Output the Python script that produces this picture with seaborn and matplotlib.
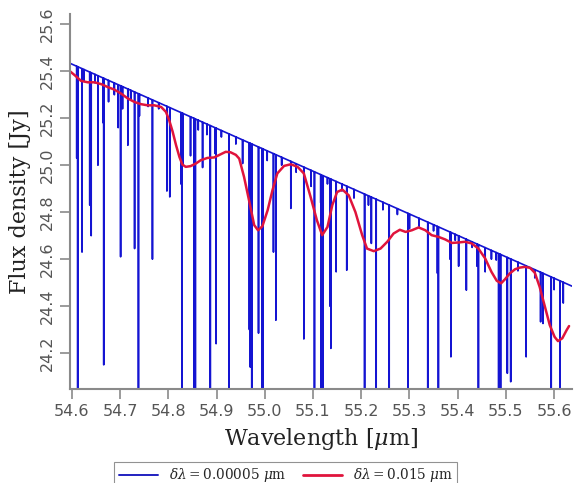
import numpy as np
import pandas as pd
import matplotlib
matplotlib.use("Agg")
import matplotlib.pyplot as plt
import seaborn as sns
from matplotlib.lines import Line2D

# ---------------- data ----------------
# continuum end points (wavelength um, flux Jy)
CONT_WL = [54.596, 55.637]
CONT_FLUX = [25.434, 24.485]

# high-resolution absorption lines: centre wavelength and minimum flux
LINE_WL = [54.610, 54.612, 54.621, 54.625, 54.637, 54.640, 54.648, 54.654, 54.665, 54.666,
           54.676, 54.688, 54.696, 54.701, 54.705, 54.716, 54.722, 54.730, 54.738, 54.740,
           54.758, 54.767, 54.780, 54.797, 54.803, 54.826, 54.828, 54.830, 54.846, 54.853,
           54.856, 54.862, 54.871, 54.880, 54.887, 54.897, 54.899, 54.910, 54.926, 54.940,
           54.954, 54.968, 54.970, 54.973, 54.987, 54.994, 54.996, 55.005, 55.018, 55.023,
           55.035, 55.054, 55.065, 55.081, 55.096, 55.103, 55.116, 55.117, 55.121, 55.130,
           55.135, 55.137, 55.148, 55.160, 55.170, 55.185, 55.207, 55.215, 55.221, 55.231,
           55.245, 55.258, 55.275, 55.297, 55.300, 55.320, 55.338, 55.350, 55.358, 55.360,
           55.384, 55.386, 55.395, 55.402, 55.418, 55.430, 55.440, 55.443, 55.457, 55.470,
           55.480, 55.485, 55.487, 55.489, 55.503, 55.510, 55.525, 55.542, 55.560, 55.572,
           55.577, 55.594, 55.600, 55.612, 55.619]
LINE_MIN = [25.03, 23.90, 24.63, 25.36, 24.83, 24.70, 25.35, 25.00, 25.18, 24.15,
            25.27, 25.30, 25.16, 24.61, 25.24, 25.085, 25.28, 24.645, 23.90, 25.21,
            25.25, 24.60, 25.24, 24.89, 24.865, 24.92, 23.90, 25.00, 25.04, 23.90,
            23.90, 25.15, 24.99, 25.13, 23.90, 25.05, 24.24, 25.12, 23.90, 25.09,
            25.007, 24.30, 24.14, 23.90, 24.285, 23.90, 23.90, 25.02, 24.63, 24.34,
            25.00, 24.816, 24.97, 24.26, 24.91, 23.90, 24.84, 23.90, 23.90, 24.92,
            24.40, 24.22, 24.546, 24.89, 24.553, 24.86, 23.90, 24.83, 24.667, 23.90,
            24.81, 23.90, 24.79, 23.90, 24.73, 24.74, 23.90, 24.72, 24.54, 23.90,
            24.60, 24.184, 24.68, 24.57, 24.468, 24.65, 24.57, 23.90, 24.546, 24.60,
            24.596, 23.90, 23.90, 23.90, 24.114, 24.078, 24.55, 24.184, 24.52, 24.333,
            24.326, 23.90, 24.47, 23.90, 24.413]

# smoothed spectrum (delta lambda = 0.015 um)
SMOOTH_WL = [54.596, 54.606, 54.619, 54.633, 54.647, 54.661, 54.674, 54.688, 54.702, 54.716,
             54.730, 54.743, 54.757, 54.771, 54.785, 54.795, 54.802, 54.809, 54.816, 54.823,
             54.829, 54.836, 54.846, 54.857, 54.867, 54.881, 54.895, 54.909, 54.919, 54.929,
             54.940, 54.947, 54.957, 54.968, 54.978, 54.986, 54.995, 55.006, 55.016, 55.026,
             55.040, 55.054, 55.068, 55.081, 55.095, 55.108, 55.119, 55.130, 55.140, 55.150,
             55.161, 55.174, 55.188, 55.202, 55.212, 55.226, 55.240, 55.254, 55.267, 55.280,
             55.292, 55.305, 55.319, 55.333, 55.346, 55.360, 55.374, 55.388, 55.402, 55.415,
             55.429, 55.443, 55.457, 55.470, 55.481, 55.490, 55.498, 55.508, 55.519, 55.529,
             55.539, 55.550, 55.560, 55.570, 55.581, 55.591, 55.601, 55.608, 55.617, 55.626,
             55.631]
SMOOTH_FLUX = [25.400, 25.383, 25.359, 25.353, 25.353, 25.345, 25.333, 25.322, 25.305, 25.284,
               25.269, 25.260, 25.255, 25.255, 25.248, 25.227, 25.190, 25.142, 25.085, 25.035,
               25.003, 24.993, 24.996, 25.007, 25.021, 25.031, 25.033, 25.047, 25.057, 25.055,
               25.044, 25.028, 24.950, 24.844, 24.745, 24.723, 24.740, 24.809, 24.894, 24.965,
               24.997, 25.004, 24.993, 24.965, 24.865, 24.766, 24.702, 24.737, 24.830, 24.886,
               24.896, 24.872, 24.800, 24.702, 24.645, 24.634, 24.645, 24.674, 24.709, 24.725,
               24.716, 24.723, 24.735, 24.723, 24.702, 24.695, 24.684, 24.669, 24.671, 24.674,
               24.667, 24.645, 24.603, 24.546, 24.508, 24.497, 24.514, 24.539, 24.557, 24.564,
               24.567, 24.563, 24.542, 24.482, 24.397, 24.319, 24.269, 24.251, 24.263, 24.298,
               24.315]

X_TICKS = [54.6, 54.7, 54.8, 54.9, 55.0, 55.1, 55.2, 55.3, 55.4, 55.5, 55.6]
Y_TICKS = [24.2, 24.4, 24.6, 24.8, 25.0, 25.2, 25.4, 25.6]
LABEL_HI = r"$\delta\lambda = 0.00005\ \mu\mathrm{m}$"
LABEL_LO = r"$\delta\lambda = 0.015\ \mu\mathrm{m}$"

# ---------------- build high-res spectrum table ----------------
half_w = 0.00012
wl_pts = list(CONT_WL)
fl_pts = list(CONT_FLUX)
for lw_, lm_ in zip(LINE_WL, LINE_MIN):
    for dx in (-half_w, half_w):
        wl_pts.append(lw_ + dx)
        fl_pts.append(float(np.interp(lw_ + dx, CONT_WL, CONT_FLUX)))
    wl_pts.append(lw_)
    fl_pts.append(lm_)
order = np.argsort(wl_pts, kind="stable")
hires = pd.DataFrame({"wl": np.array(wl_pts)[order], "flux": np.array(fl_pts)[order]})
smooth = pd.DataFrame({"wl": SMOOTH_WL, "flux": SMOOTH_FLUX})

# ---------------- plot ----------------
sns.set_theme(style="white")
plt.rcParams["font.family"] = ["DejaVu Sans"]
plt.rcParams["mathtext.fontset"] = "dejavuserif"

fig = plt.figure(figsize=(5.75, 4.83), dpi=100)
ax = fig.add_axes([0.1217, 0.1946, 0.873, 0.776])

blue = "#1414d2"
red = "#e0143c"
sns.lineplot(data=hires, x="wl", y="flux", ax=ax, color=blue, linewidth=1.2,
             sort=False, estimator=None, legend=False)
sns.lineplot(data=smooth, x="wl", y="flux", ax=ax, color=red, linewidth=1.8,
             sort=False, estimator=None, legend=False)

ax.set_xlim(54.596, 55.637)
ax.set_ylim(24.047, 25.643)
ax.set_xticks(X_TICKS)
ax.set_xticklabels([f"{v:.1f}" for v in X_TICKS])
ax.set_yticks(Y_TICKS)
ax.set_yticklabels([f"{v:.1f}" for v in Y_TICKS], rotation=90, va="center")

grey = "#8a8a8a"
for s in ("top", "right"):
    ax.spines[s].set_visible(False)
for s in ("left", "bottom"):
    ax.spines[s].set_color(grey)
    ax.spines[s].set_linewidth(1.5)
ax.tick_params(axis="both", direction="out", length=7, width=1.2, color=grey,
               labelcolor="#555555", labelsize=11.5, pad=4, left=True, bottom=True)

ax.set_xlabel(r"Wavelength [$\mu$m]", family="DejaVu Serif", fontsize=16, color="#222222", labelpad=5)
ax.set_ylabel("Flux density [Jy]", family="DejaVu Serif", fontsize=16, color="#222222", labelpad=6)

handles = [Line2D([], [], color="#2020c0", lw=1.4), Line2D([], [], color=red, lw=2.0)]
leg = fig.legend(handles, [LABEL_HI, LABEL_LO], loc="upper center",
                 bbox_to_anchor=(0.497, 0.043), ncol=2, fontsize=9.8, frameon=True,
                 fancybox=False, edgecolor="#777777", handlelength=2.9, handletextpad=0.8,
                 columnspacing=1.2, borderpad=0.3, borderaxespad=0.0)
leg.get_frame().set_linewidth(0.8)

fig.savefig("out.png", dpi=100)
